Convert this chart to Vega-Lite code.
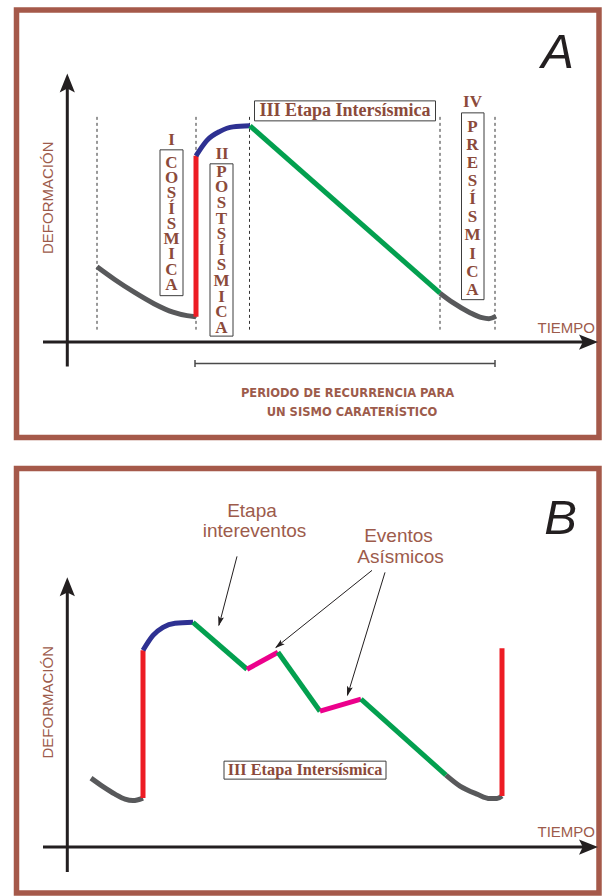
{
  "$schema": "https://vega.github.io/schema/vega-lite/v6.json",
  "width": 602,
  "height": 896,
  "padding": 0,
  "autosize": {"type": "fit", "contains": "padding"},
  "background": "white",
  "config": {"view": {"stroke": null}},
  "datasets": {
    "frames": [
      {"panel": "A", "x": 16.5, "y": 10, "x2": 599, "y2": 438},
      {"panel": "B", "x": 16.5, "y": 469, "x2": 599, "y2": 894}
    ],
    "axes": [
      {"x": 67.3, "y": 367, "x2": 67.3, "y2": 85},
      {"x": 43, "y": 342.5, "x2": 588, "y2": 342.5},
      {"x": 67.3, "y": 873, "x2": 67.3, "y2": 590},
      {"x": 43, "y": 848, "x2": 588, "y2": 848}
    ],
    "heads": [
      {"x": 67.3, "y": 73.5, "dir": 0},
      {"x": 598, "y": 342.5, "dir": 90},
      {"x": 67.3, "y": 578, "dir": 0},
      {"x": 598, "y": 848, "dir": 90}
    ],
    "guides": [
      {"x": 97, "y": 117, "y2": 330},
      {"x": 196, "y": 117, "y2": 330},
      {"x": 249.5, "y": 117, "y2": 330},
      {"x": 440, "y": 117, "y2": 330},
      {"x": 495, "y": 117, "y2": 330}
    ],
    "bracket": [
      {"x": 195, "y": 364, "x2": 495, "y2": 364},
      {"x": 195, "y": 360.5, "x2": 195, "y2": 367.5},
      {"x": 495, "y": 360.5, "x2": 495, "y2": 367.5}
    ],
    "pointers": [
      {"x": 237, "y": 557, "x2": 219, "y2": 626},
      {"x": 372, "y": 571, "x2": 276, "y2": 648},
      {"x": 385, "y": 573, "x2": 347.5, "y2": 696}
    ],
    "pointerHeads": [
      {"x": 218.5, "y": 627, "dir": 194.8},
      {"x": 275, "y": 649, "dir": 231.2},
      {"x": 347, "y": 697, "dir": 197}
    ],
    "boxes": [
      {"x": 160, "y": 150, "x2": 183, "y2": 296},
      {"x": 210, "y": 164, "x2": 233, "y2": 336.5},
      {"x": 461.5, "y": 113, "x2": 484, "y2": 300},
      {"x": 254.5, "y": 101, "x2": 435.5, "y2": 121},
      {"x": 224, "y": 762, "x2": 386, "y2": 780}
    ],
    "curve": [
      {"seg": "A1", "etapa": "presísmica", "x": 97, "y": 267},
      {"seg": "A1", "etapa": "presísmica", "x": 115, "y": 280},
      {"seg": "A1", "etapa": "presísmica", "x": 135, "y": 293},
      {"seg": "A1", "etapa": "presísmica", "x": 154, "y": 304},
      {"seg": "A1", "etapa": "presísmica", "x": 173, "y": 312.5},
      {"seg": "A1", "etapa": "presísmica", "x": 187, "y": 316},
      {"seg": "A1", "etapa": "presísmica", "x": 196, "y": 317},
      {"seg": "A2", "etapa": "cosísmica", "x": 196, "y": 317},
      {"seg": "A2", "etapa": "cosísmica", "x": 196, "y": 156},
      {"seg": "A3", "etapa": "postsísmica", "x": 196, "y": 156},
      {"seg": "A3", "etapa": "postsísmica", "x": 207, "y": 140.5},
      {"seg": "A3", "etapa": "postsísmica", "x": 220, "y": 131.5},
      {"seg": "A3", "etapa": "postsísmica", "x": 233, "y": 127},
      {"seg": "A3", "etapa": "postsísmica", "x": 250, "y": 126},
      {"seg": "A4", "etapa": "intersísmica", "x": 250, "y": 126},
      {"seg": "A4", "etapa": "intersísmica", "x": 440, "y": 293.5},
      {"seg": "A5", "etapa": "presísmica", "x": 440, "y": 293.5},
      {"seg": "A5", "etapa": "presísmica", "x": 453, "y": 303},
      {"seg": "A5", "etapa": "presísmica", "x": 470, "y": 313},
      {"seg": "A5", "etapa": "presísmica", "x": 482, "y": 318},
      {"seg": "A5", "etapa": "presísmica", "x": 489, "y": 319},
      {"seg": "A5", "etapa": "presísmica", "x": 496, "y": 316.5},
      {"seg": "B1", "etapa": "presísmica", "x": 91, "y": 779},
      {"seg": "B1", "etapa": "presísmica", "x": 103, "y": 787.5},
      {"seg": "B1", "etapa": "presísmica", "x": 115, "y": 795},
      {"seg": "B1", "etapa": "presísmica", "x": 125, "y": 800},
      {"seg": "B1", "etapa": "presísmica", "x": 133, "y": 801.5},
      {"seg": "B1", "etapa": "presísmica", "x": 143, "y": 799},
      {"seg": "B2", "etapa": "cosísmica", "x": 143, "y": 799},
      {"seg": "B2", "etapa": "cosísmica", "x": 143, "y": 651},
      {"seg": "B3", "etapa": "postsísmica", "x": 143, "y": 651},
      {"seg": "B3", "etapa": "postsísmica", "x": 153, "y": 636},
      {"seg": "B3", "etapa": "postsísmica", "x": 163, "y": 628},
      {"seg": "B3", "etapa": "postsísmica", "x": 175, "y": 624},
      {"seg": "B3", "etapa": "postsísmica", "x": 193, "y": 623},
      {"seg": "B4", "etapa": "intersísmica", "x": 193, "y": 623},
      {"seg": "B4", "etapa": "intersísmica", "x": 247, "y": 670},
      {"seg": "B5", "etapa": "asísmico", "x": 247, "y": 670},
      {"seg": "B5", "etapa": "asísmico", "x": 278, "y": 653},
      {"seg": "B6", "etapa": "intersísmica", "x": 278, "y": 653},
      {"seg": "B6", "etapa": "intersísmica", "x": 320, "y": 712},
      {"seg": "B7", "etapa": "asísmico", "x": 320, "y": 712},
      {"seg": "B7", "etapa": "asísmico", "x": 361, "y": 700},
      {"seg": "B8", "etapa": "intersísmica", "x": 361, "y": 700},
      {"seg": "B8", "etapa": "intersísmica", "x": 446, "y": 776},
      {"seg": "B9", "etapa": "presísmica", "x": 446, "y": 776},
      {"seg": "B9", "etapa": "presísmica", "x": 460, "y": 787},
      {"seg": "B9", "etapa": "presísmica", "x": 477, "y": 795},
      {"seg": "B9", "etapa": "presísmica", "x": 490, "y": 799.5},
      {"seg": "B9", "etapa": "presísmica", "x": 497, "y": 799.5},
      {"seg": "B9", "etapa": "presísmica", "x": 502, "y": 797},
      {"seg": "B10", "etapa": "cosísmica", "x": 502, "y": 797},
      {"seg": "B10", "etapa": "cosísmica", "x": 502, "y": 649}
    ],
    "numerals": [
      {"x": 171.5, "y": 140, "t": "I"},
      {"x": 222, "y": 154.5, "t": "II"},
      {"x": 472.5, "y": 102, "t": "IV"}
    ],
    "wordCos": [{"x": 171.5, "y": 163, "t": "C\nO\nS\nÍ\nS\nM\nI\nC\nA"}],
    "wordPost": [{"x": 221.5, "y": 172, "t": "P\nO\nS\nT\nS\nÍ\nS\nM\nI\nC\nA"}],
    "wordPre": [{"x": 472.5, "y": 127, "t": "P\nR\nE\nS\nÍ\nS\nM\nI\nC\nA"}],
    "stageA": [{"x": 345, "y": 111, "t": "III Etapa Intersísmica"}],
    "stageB": [{"x": 305, "y": 771, "t": "III Etapa Intersísmica"}],
    "yTitles": [
      {"x": 52.5, "y": 198, "t": "DEFORMACIÓN"},
      {"x": 52.5, "y": 703, "t": "DEFORMACIÓN"}
    ],
    "xTitles": [
      {"x": 595, "y": 333, "t": "TIEMPO"},
      {"x": 595, "y": 838, "t": "TIEMPO"}
    ],
    "notes": [
      {"x": 252, "y": 518, "t": "Etapa"},
      {"x": 254.5, "y": 538, "t": "intereventos"},
      {"x": 398.5, "y": 543, "t": "Eventos"},
      {"x": 400.5, "y": 564, "t": "Asísmicos"}
    ],
    "period": [
      {"x": 347.5, "y": 397, "t": "PERIODO DE RECURRENCIA PARA"},
      {"x": 352, "y": 416, "t": "UN SISMO CARATERÍSTICO"}
    ],
    "panelLetters": [
      {"x": 557.5, "y": 68, "t": "A"},
      {"x": 560.5, "y": 535, "t": "B"}
    ]
  },
  "encoding": {
    "x": {"field": "x", "type": "quantitative", "scale": {"domain": [0, 602], "nice": false, "zero": false}, "axis": null},
    "y": {"field": "y", "type": "quantitative", "scale": {"domain": [0, 896], "reverse": true, "nice": false, "zero": false}, "axis": null}
  },
  "layer": [
    {
      "data": {"name": "frames"},
      "mark": {"type": "rect", "fill": "white", "fillOpacity": 0, "stroke": "#a5594a", "strokeWidth": 5.5},
      "encoding": {"x2": {"field": "x2"}, "y2": {"field": "y2"}}
    },
    {
      "data": {"name": "guides"},
      "mark": {"type": "rule", "stroke": "#333333", "strokeWidth": 1, "strokeDash": [3, 3]},
      "encoding": {"y2": {"field": "y2"}}
    },
    {
      "data": {"name": "bracket"},
      "mark": {"type": "rule", "stroke": "#4a4a4a", "strokeWidth": 1.5},
      "encoding": {"x2": {"field": "x2"}, "y2": {"field": "y2"}}
    },
    {
      "data": {"name": "axes"},
      "mark": {"type": "rule", "stroke": "#231f20", "strokeWidth": 3},
      "encoding": {"x2": {"field": "x2"}, "y2": {"field": "y2"}}
    },
    {
      "data": {"name": "heads"},
      "mark": {"type": "point", "shape": "M0,0 L0.8,2 L0,1.6 L-0.8,2 Z", "size": 361, "filled": true, "fill": "#231f20", "strokeWidth": 0, "opacity": 1},
      "encoding": {"angle": {"field": "dir", "type": "quantitative", "scale": null}}
    },
    {
      "data": {"name": "boxes"},
      "mark": {"type": "rect", "fill": "white", "stroke": "#3d3d3d", "strokeWidth": 1},
      "encoding": {"x2": {"field": "x2"}, "y2": {"field": "y2"}}
    },
    {
      "data": {"name": "curve"},
      "mark": {"type": "line", "interpolate": "monotone", "strokeWidth": 5, "strokeCap": "butt"},
      "encoding": {
        "detail": {"field": "seg"},
        "color": {
          "field": "etapa",
          "type": "nominal",
          "scale": {
            "domain": ["presísmica", "cosísmica", "postsísmica", "intersísmica", "asísmico"],
            "range": ["#58595b", "#ed1c24", "#2e3192", "#03a04f", "#ec008c"]
          },
          "legend": null
        }
      }
    },
    {
      "data": {"name": "pointers"},
      "mark": {"type": "rule", "stroke": "#231f20", "strokeWidth": 1},
      "encoding": {"x2": {"field": "x2"}, "y2": {"field": "y2"}}
    },
    {
      "data": {"name": "pointerHeads"},
      "mark": {"type": "point", "shape": "M0,0 L0.6,2 L0,1.6 L-0.6,2 Z", "size": 100, "filled": true, "fill": "#231f20", "strokeWidth": 0, "opacity": 1},
      "encoding": {"angle": {"field": "dir", "type": "quantitative", "scale": null}}
    },
    {
      "data": {"name": "numerals"},
      "mark": {"type": "text", "font": "Liberation Serif", "fontWeight": "bold", "fontSize": 17, "fill": "#8b4a3a", "align": "center", "baseline": "middle"},
      "encoding": {"text": {"field": "t"}}
    },
    {
      "data": {"name": "wordCos"},
      "mark": {"type": "text", "font": "Liberation Serif", "fontWeight": "bold", "fontSize": 17, "fill": "#8b4a3a", "align": "center", "baseline": "middle", "lineBreak": "\n", "lineHeight": 15.25},
      "encoding": {"text": {"field": "t"}}
    },
    {
      "data": {"name": "wordPost"},
      "mark": {"type": "text", "font": "Liberation Serif", "fontWeight": "bold", "fontSize": 17, "fill": "#8b4a3a", "align": "center", "baseline": "middle", "lineBreak": "\n", "lineHeight": 15.6},
      "encoding": {"text": {"field": "t"}}
    },
    {
      "data": {"name": "wordPre"},
      "mark": {"type": "text", "font": "Liberation Serif", "fontWeight": "bold", "fontSize": 17, "fill": "#8b4a3a", "align": "center", "baseline": "middle", "lineBreak": "\n", "lineHeight": 18.1},
      "encoding": {"text": {"field": "t"}}
    },
    {
      "data": {"name": "stageA"},
      "mark": {"type": "text", "font": "Liberation Serif", "fontWeight": "bold", "fontSize": 18, "fill": "#8b4a3a", "align": "center", "baseline": "middle"},
      "encoding": {"text": {"field": "t"}}
    },
    {
      "data": {"name": "stageB"},
      "mark": {"type": "text", "font": "Liberation Serif", "fontWeight": "bold", "fontSize": 16.3, "fill": "#8b4a3a", "align": "center", "baseline": "middle"},
      "encoding": {"text": {"field": "t"}}
    },
    {
      "data": {"name": "yTitles"},
      "mark": {"type": "text", "font": "Liberation Sans", "fontSize": 15, "fill": "#9d5b4b", "align": "center", "baseline": "alphabetic", "angle": 270},
      "encoding": {"text": {"field": "t"}}
    },
    {
      "data": {"name": "xTitles"},
      "mark": {"type": "text", "font": "Liberation Sans", "fontSize": 15, "fill": "#9d5b4b", "align": "right", "baseline": "alphabetic"},
      "encoding": {"text": {"field": "t"}}
    },
    {
      "data": {"name": "notes"},
      "mark": {"type": "text", "font": "Liberation Sans", "fontSize": 19, "fill": "#9d5b4b", "align": "center", "baseline": "alphabetic"},
      "encoding": {"text": {"field": "t"}}
    },
    {
      "data": {"name": "period"},
      "mark": {"type": "text", "font": "DejaVu Sans", "fontWeight": "bold", "fontSize": 11.5, "fill": "#9d5b4b", "align": "center", "baseline": "alphabetic"},
      "encoding": {"text": {"field": "t"}}
    },
    {
      "data": {"name": "panelLetters"},
      "mark": {"type": "text", "font": "Liberation Sans", "fontStyle": "italic", "fontSize": 49, "fill": "#231f20", "align": "center", "baseline": "alphabetic"},
      "encoding": {"text": {"field": "t"}}
    }
  ]
}
